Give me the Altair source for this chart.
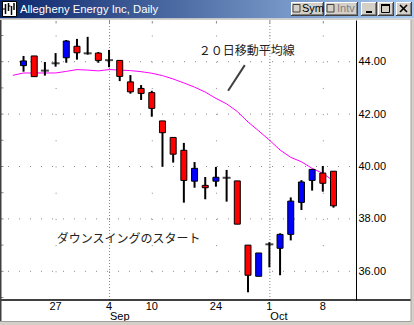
import altair as alt
import pandas as pd

# ---------------- data ----------------
dates = ["2001-08-22", "2001-08-23", "2001-08-24", "2001-08-27", "2001-08-28",
         "2001-08-29", "2001-08-30", "2001-08-31", "2001-09-04", "2001-09-05",
         "2001-09-06", "2001-09-07", "2001-09-10", "2001-09-17", "2001-09-18",
         "2001-09-19", "2001-09-20", "2001-09-21", "2001-09-24", "2001-09-25",
         "2001-09-26", "2001-09-27", "2001-09-28", "2001-10-01", "2001-10-02",
         "2001-10-03", "2001-10-04", "2001-10-05", "2001-10-08", "2001-10-09"]
opens = [43.85, 44.22, 43.66, 43.94, 44.15, 44.59, 44.32, 44.33, 44.06, 44.05,
         43.23, 42.98, 42.82, 41.74, 41.11, 40.62, 39.44, 39.28, 39.44, 39.57,
         39.45, 37.00, 35.81, 37.03, 36.88, 37.41, 38.63, 39.47, 39.75, 39.82]
highs = [44.22, 44.22, 43.99, 44.33, 44.83, 44.87, 44.95, 44.37, 44.45, 44.05,
         43.49, 43.11, 42.89, 41.74, 41.11, 40.90, 40.17, 39.60, 39.98, 39.87,
         39.45, 37.00, 36.70, 37.11, 37.45, 38.82, 39.48, 39.89, 40.02, 39.82]
lows = [43.62, 43.43, 43.47, 43.81, 43.96, 44.08, 44.27, 43.96, 43.79, 43.26,
        42.78, 42.54, 41.90, 39.99, 40.15, 38.62, 39.19, 38.75, 39.23, 38.66,
        37.80, 35.20, 35.81, 36.15, 35.85, 37.18, 38.34, 39.08, 39.04, 38.43]
closes = [44.03, 43.43, 43.66, 43.94, 44.79, 44.34, 44.32, 44.05, 44.06, 43.44,
          42.85, 42.79, 42.22, 41.29, 40.47, 39.47, 39.93, 39.19, 39.59, 39.57,
          37.80, 35.85, 36.70, 37.03, 37.41, 38.68, 39.41, 39.89, 39.36, 38.50]

ma_pos = list(range(-1, 30))
ma_vals = [43.48, 43.57, 43.57, 43.57, 43.57, 43.63, 43.70, 43.68, 43.65, 43.70,
           43.68, 43.66, 43.62, 43.56, 43.47, 43.34, 43.19, 43.03, 42.84, 42.60,
           42.39, 42.10, 41.70, 41.36, 41.01, 40.63, 40.35, 40.18, 39.93, 39.74, 39.45]

day_tick_pos = [3, 8, 12, 18, 23, 28]
day_tick_text = ["27", "4", "10", "24", "1", "8"]
month_pos = [8, 23]
month_text = ["Sep", "Oct"]
price_major = [36, 38, 40, 42, 44]
price_minor = [35, 36, 37, 38, 39, 40, 41, 42, 43, 44, 45]

note_ma_text = ["２０日移動平均線"]
note_ma_pos = [16.4]
note_ma_price = [44.41]
note_ptr_pos = [20.7, 19.14]
note_ptr_price = [43.87, 42.89]
note_swing_text = ["ダウンスイングのスタート"]
note_swing_pos = [3.1]
note_swing_price = [37.23]

# ---------------- frames ----------------
candles = pd.DataFrame({"pos": list(range(len(dates))), "date": dates,
                        "open": opens, "high": highs, "low": lows, "close": closes})
ma = pd.DataFrame({"pos": ma_pos, "ma": ma_vals})
ticks = pd.DataFrame({"pos": day_tick_pos, "label": day_tick_text})
months = pd.DataFrame({"pos": month_pos, "label": month_text})
major = pd.DataFrame({"p": price_major})
minor = pd.DataFrame({"p": price_minor})
note1 = pd.DataFrame({"pos": note_ma_pos, "p": note_ma_price, "t": note_ma_text})
ptr = pd.DataFrame({"pos": [note_ptr_pos[0]], "pos2": [note_ptr_pos[1]],
                    "p": [note_ptr_price[0]], "p2": [note_ptr_price[1]]})
note2 = pd.DataFrame({"pos": note_swing_pos, "p": note_swing_price, "t": note_swing_text})

W, H = 354, 280
OX, OY = 2, 20  # page -> plot offset
xs = alt.Scale(domain=[-17 / 11, 337 / 11], nice=False, zero=False)
ys = alt.Scale(domain=[34.905, 45.592], nice=False, zero=False)
GRID = "#8a8a8a"
LF = "Liberation Sans"
JF = "Noto Sans CJK JP"

YAX = alt.Axis(orient="right", values=price_major, format=".2f", title=None,
               grid=False, ticks=False, domain=True, domainColor="black",
               domainWidth=1, labelFont=LF, labelFontSize=11,
               labelColor="black", labelPadding=2)


def X(f):
    return alt.X(f, type="quantitative", scale=xs, axis=None)


def Y(f):
    return alt.Y(f, type="quantitative", scale=ys, axis=YAX)


one = pd.DataFrame({"k": [0]})


def px_rect(x1, y1, x2, y2, fill, stroke=None, sw=1):
    kw = dict(fill=fill)
    if stroke:
        kw.update(stroke=stroke, strokeWidth=sw)
    else:
        kw.update(strokeWidth=0)
    return alt.Chart(one).mark_rect(**kw).encode(
        x=alt.value(x1 - OX), x2=alt.value(x2 - OX),
        y=alt.value(y1 - OY), y2=alt.value(y2 - OY))


def px_rule(x1, y1, x2, y2, color, sw=1):
    return alt.Chart(one).mark_rule(color=color, strokeWidth=sw).encode(
        x=alt.value(x1 - OX), x2=alt.value(x2 - OX),
        y=alt.value(y1 - OY), y2=alt.value(y2 - OY))


def px_text(x, y, text, color="black", size=11, align="left", font=LF):
    return alt.Chart(one).mark_text(text=text, color=color, fontSize=size, align=align,
                                    baseline="middle", font=font).encode(
        x=alt.value(x - OX), y=alt.value(y - OY))


def button(x1, y1, x2, y2):
    return [px_rect(x1, y1, x2, y2, "#404040"),
            px_rect(x1, y1, x2 - 1, y2 - 1, "#ffffff"),
            px_rect(x1 + 1, y1 + 1, x2 - 1, y2 - 1, "#808080"),
            px_rect(x1 + 1, y1 + 1, x2 - 2, y2 - 2, "#d4d0c8")]


# ---------------- window chrome (title bar) ----------------
grad = alt.Gradient(gradient="linear",
                    stops=[alt.GradientStop(color="#0a246a", offset=0),
                           alt.GradientStop(color="#a6caf0", offset=1)],
                    x1=0, x2=1, y1=0, y2=0)
chrome = [
    alt.Chart(one).mark_rect(fill=grad, strokeWidth=0).encode(
        x=alt.value(0 - OX), x2=alt.value(414 - OX), y=alt.value(0 - OY), y2=alt.value(18.5 - OY)),
    px_rect(0, 18.5, 414, 20, "#d4d0c8"),
    # icon
    px_rect(2.5, 1.5, 16.5, 16.5, "#ffffff", "#000000", 1),
    px_rule(5.5, 4, 5.5, 14, "black", 1.5),
    px_rule(8.5, 3, 8.5, 11, "black", 1.5),
    px_rule(11.5, 6, 11.5, 15, "black", 1.5),
    px_rule(14, 3, 14, 10, "black", 1.5),
    px_rule(3, 9, 5.5, 9, "black", 1),
    px_rule(8.5, 6, 10.5, 6, "black", 1),
    px_text(20, 9.5, "Allegheny Energy Inc, Daily", color="white", size=11.3),
]
chrome += button(291, 2, 324, 16)
chrome += button(325, 2, 358, 16)
chrome += button(361, 2, 377, 16)
chrome += button(378, 2, 394, 16)
chrome += button(396, 2, 412, 16)
chrome += [
    px_rect(293, 4.5, 300, 12, "#d4d0c8", "#404040", 1),
    px_text(302, 9, "Sym", size=11),
    px_rect(327, 4.5, 334, 12, "#d4d0c8", "#404040", 1),
    px_text(337, 9, "Intv", color="#808080", size=11),
    px_rect(366, 11, 372, 13, "black"),
    px_rect(381.5, 4.5, 389.5, 12.5, "none", "black", 1),
    px_rect(381, 4, 390, 6, "black"),
    px_rule(400, 5, 407, 12, "black", 1.6),
    px_rule(407, 5, 400, 12, "black", 1.6),
]

# ---------------- grid ----------------
grid_major = alt.Chart(major).mark_rule(color=GRID, strokeWidth=1, strokeDash=[1, 10],
                                        strokeDashOffset=5).encode(
    y=Y("p"), x=alt.value(0), x2=alt.value(W))
left_ticks = alt.Chart(minor).mark_rule(color=GRID, strokeWidth=1).encode(
    y=Y("p"), x=alt.value(-1), x2=alt.value(1.5))
col_dots = alt.Chart(ticks).transform_calculate(top="45", bot="35").mark_rule(
    color=GRID, strokeWidth=1, strokeDash=[1, 25.2], xOffset=0.5).encode(
    x=X("pos"), y=Y("top:Q"), y2="bot:Q")
top_marks = alt.Chart(ticks).mark_rule(color=GRID, strokeWidth=1, xOffset=0.5).encode(
    x=X("pos"), y=alt.value(1), y2=alt.value(3.5))
month_lines = alt.Chart(months).mark_rule(color=GRID, strokeWidth=1, strokeDash=[1, 2],
                                          xOffset=0.5).encode(
    x=X("pos"), y=alt.value(0), y2=alt.value(H))

# ---------------- moving average ----------------
ma_line = alt.Chart(ma).mark_line(color="#ff00ff", strokeWidth=1).encode(
    x=X("pos"), y=Y("ma"))

# ---------------- candles ----------------
wicks = alt.Chart(candles).mark_rule(color="black", strokeWidth=2).encode(
    x=X("pos"), y=Y("low"), y2="high:Q")
bodies = alt.Chart(candles).transform_filter("datum.open != datum.close").mark_bar(
    size=6, stroke="black", strokeWidth=1).encode(
    x=X("pos"), y=Y("open"), y2="close:Q",
    fill=alt.condition("datum.close > datum.open", alt.value("#0000ff"), alt.value("#ff0000")))
doji = alt.Chart(candles).transform_filter("datum.open == datum.close").mark_tick(
    orient="horizontal", size=8, thickness=2, color="black").encode(
    x=X("pos"), y=Y("open"))

# ---------------- annotations ----------------
ann1 = alt.Chart(note1).mark_text(align="left", baseline="middle", font=JF, fontSize=12,
                                  color="#222222").encode(x=X("pos"), y=Y("p"), text="t:N")
ann_ptr = alt.Chart(ptr).mark_rule(color="#404040", strokeWidth=2).encode(
    x=X("pos"), x2="pos2:Q", y=Y("p"), y2="p2:Q")
ann2 = alt.Chart(note2).mark_text(align="left", baseline="middle", font=JF, fontSize=12,
                                  color="#222222").encode(x=X("pos"), y=Y("p"), text="t:N")

# ---------------- bottom axis ----------------
day_lbl = alt.Chart(ticks).mark_text(font=LF, fontSize=11, color="black", baseline="middle",
                                     align="center").encode(
    x=X("pos"), y=alt.value(287), text="label:N")
mon_lbl = alt.Chart(months).mark_text(font=LF, fontSize=11, color="black", baseline="middle",
                                      align="left", dx=1).encode(
    x=X("pos"), y=alt.value(297), text="label:N")

frame = [
    px_rule(0, 300, 411, 300, "black", 1.5),
    px_rect(0, 20, 1.5, 321, "#404040"),
    px_rect(411, 20, 414, 325, "#d4d0c8"),
    px_rule(411, 20, 411, 321, "#a0a0a0", 1),
    px_rect(0, 321, 414, 325, "#d4d0c8"),
    px_rule(0, 321.5, 411, 321.5, "#a0a0a0", 1),
]

layers = chrome + [grid_major, left_ticks, col_dots, top_marks, month_lines, ma_line,
                   wicks, bodies, doji, ann_ptr, ann1, ann2, day_lbl, mon_lbl] + frame

chart = alt.layer(*layers).properties(
    width=W, height=H,
    padding={"left": 2, "top": 20, "right": 58, "bottom": 25},
    autosize=alt.AutoSizeParams(type="none"),
    background="white",
).configure_view(strokeWidth=0)

chart.save("out.html", embed_options={"renderer": "svg", "actions": False})
